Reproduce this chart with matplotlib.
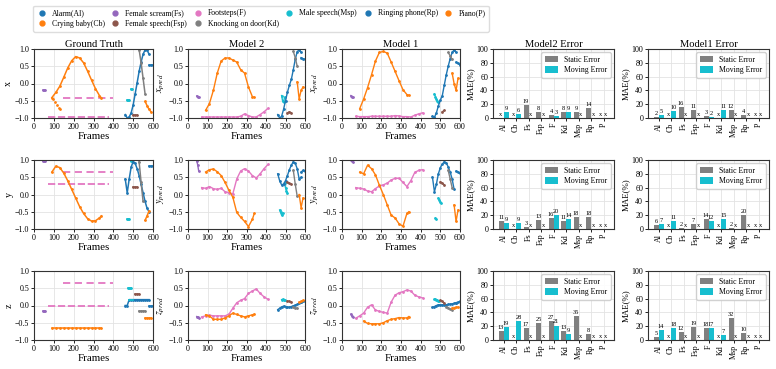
import numpy as np
import matplotlib
matplotlib.use("Agg")
import matplotlib.pyplot as plt
from matplotlib.lines import Line2D

nan = np.nan

# sound classes
names = ["Alarm(Al)", "Crying baby(Cb)", "Female scream(Fs)", "Female speech(Fsp)",
         "Footsteps(F)", "Knocking on door(Kd)", "Male speech(Msp)", "Ringing phone(Rp)", "Piano(P)"]
short = ["Al", "Cb", "Fs", "Fsp", "F", "Kd", "Msp", "Rp", "P"]
colors = ["#1f77b4", "#ff7f0e", "#9467bd", "#8c564b", "#e377c2",
          "#7f7f7f", "#17becf", "#1f77b4", "#ff7f0e"]

# frame grids for each source
fr_fs = [45, 50, 55]
fr_cb = [90, 110, 130, 150, 170, 190, 210, 230, 250, 270, 290, 310, 330, 340]
fr_f = [70, 90, 110, 130, 150, 170, 190, 210, 230, 250, 270, 290, 310, 330, 350, 370, 390, 410]
fr_msp = [470, 475, 480, 485, 490, 495, 500, 505, 510]
fr_al = [460, 470, 480, 490, 500, 510, 520, 530, 540, 550, 560, 570, 580]
fr_rp = [580, 590, 600]
fr_kd = [530, 540, 550, 560]
fr_fsp = [500, 510, 520, 530]
fr_p = [560, 570, 580, 590]
fr_f_gt_lo = [70, 380]
fr_f_gt_hi = [145, 400]
fr_cb_gt2 = [95, 105, 115, 125, 130]
fr_msp_gt2 = [480, 490, 500]

# ---- ground truth ----
x_gt_fs = [-0.2, -0.2, -0.2]
y_gt_fs = [0.98, 0.98, 0.98]
z_gt_fs = [-0.17, -0.17, -0.17]
x_gt_cb = [-0.41, -0.26, -0.08, 0.18, 0.45, 0.66, 0.78, 0.74, 0.6, 0.36, 0.1, -0.15, -0.35, -0.42]
y_gt_cb = [0.65, 0.82, 0.78, 0.62, 0.4, 0.15, -0.1, -0.35, -0.55, -0.7, -0.77, -0.76, -0.68, -0.62]
z_gt_cb = [-0.64, -0.64, -0.64, -0.64, -0.64, -0.64, -0.64, -0.64, -0.64, -0.64, -0.64, -0.64, -0.64, -0.64]
x_gt_cb2 = [-0.45, -0.55, -0.62, -0.7, -0.75]
x_gt_f_lo = [-0.97, -0.97]
x_gt_f_hi = [-0.42, -0.42]
y_gt_f_lo = [0.3, 0.3]
y_gt_f_hi = [0.65, 0.65]
z_gt_f_lo = [0.0, 0.0]
z_gt_f_hi = [0.65, 0.65]
x_gt_msp = [-0.47, -0.47, -0.47, nan, -0.16, -0.16, nan, nan, nan]
y_gt_msp = [-0.71, -0.71, -0.71, nan, 0.98, 0.98, nan, nan, nan]
z_gt_msp = [nan, 0.5, 0.5, 0.5, 0.5, nan, nan, nan, nan]
z_gt_msp2 = [0.17, 0.17, 0.17]
x_gt_al = [-0.9, -1.0, -0.97, -0.85, -0.62, -0.3, 0.02, 0.35, 0.62, 0.85, 0.97, 0.97, 0.85]
y_gt_al = [0.45, 0.05, 0.45, 0.8, 0.95, 0.9, 0.75, 0.55, 0.3, 0.05, -0.2, -0.4, -0.5]
z_gt_al = [0.0, 0.0, 0.17, 0.17, 0.17, 0.17, 0.17, 0.17, 0.17, 0.17, 0.17, 0.17, 0.17]
x_gt_rp = [0.55, 0.55, 0.55]
y_gt_rp = [0.84, 0.84, 0.84]
z_gt_rp = [0.0, 0.0, 0.0]
x_gt_kd = [0.98, 0.6, 0.15, -0.3]
y_gt_kd = [0.95, 0.35, -0.2, nan]
z_gt_kd = [-0.17, -0.17, -0.17, -0.17]
x_gt_fsp = [-0.92, -0.92, -0.92, nan]
y_gt_fsp = [0.21, 0.21, 0.21, nan]
z_gt_fsp = [nan, 0.33, 0.33, 0.33]
x_gt_p = [-0.52, -0.64, -0.75, -0.82]
y_gt_p = [-0.75, -0.62, -0.48, nan]
z_gt_p = [-0.35, -0.35, -0.35, -0.35]

# ---- model 2 predictions ----
x_m2_fs = [-0.36, -0.38, -0.4]
y_m2_fs = [0.98, 0.85, 0.68]
z_m2_fs = [-0.32, -0.34, -0.35]
x_m2_cb = [-0.78, -0.58, -0.2, 0.3, 0.65, 0.74, 0.74, 0.68, 0.62, 0.4, 0.3, -0.1, -0.38, -0.4]
y_m2_cb = [0.65, 0.72, 0.74, 0.66, 0.55, 0.35, 0.12, -0.08, -0.52, -0.66, -0.78, -0.93, -0.72, -0.55]
z_m2_cb = [-0.27, -0.3, -0.4, -0.4, -0.4, -0.36, -0.3, -0.22, -0.26, -0.3, -0.33, -0.3, -0.27, -0.25]
x_m2_f = [-0.97, -0.97, -0.97, -0.97, -0.97, -0.97, -0.97, -0.97, -0.97, -0.97, -0.95, -0.88, -0.93, -0.97, -0.97, -0.9, -0.82, -0.72]
y_m2_f = [0.2, 0.18, 0.23, 0.17, 0.15, 0.18, 0.08, 0.05, 0.02, 0.45, 0.68, 0.75, 0.68, 0.55, 0.48, 0.6, 0.75, 0.87]
z_m2_f = [-0.33, -0.3, -0.28, -0.3, -0.3, -0.3, -0.3, -0.25, -0.08, 0.08, 0.15, 0.2, 0.35, 0.42, 0.48, 0.35, 0.25, 0.18]
x_m2_msp = [nan, nan, -0.35, -0.5, -0.55, -0.4, nan, nan, nan]
y_m2_msp = [-0.45, -0.52, -0.6, -0.55, nan, 0.33, 0.2, 0.1, 0.04]
z_m2_msp = [nan, nan, 0.17, 0.18, 0.17, 0.15, nan, nan, nan]
x_m2_al = [-0.9, -1.0, -0.95, -0.75, -0.5, -0.25, -0.05, 0.12, 0.4, 0.7, 0.92, 0.98, 0.9]
y_m2_al = [0.6, 0.4, 0.28, 0.3, 0.4, 0.55, 0.72, 0.85, 0.95, 0.9, 0.75, 0.45, 0.5]
z_m2_al = [-0.12, -0.08, -0.04, -0.02, -0.03, -0.05, -0.05, -0.03, -0.01, 0.01, 0.03, 0.06, 0.09]
x_m2_rp = [0.75, 0.72, 0.7]
y_m2_rp = [0.65, 0.7, 0.68]
z_m2_rp = [0.1, 0.12, 0.13]
x_m2_kd = [nan, 0.93, 0.75, 0.5]
y_m2_kd = [nan, 0.7, 0.3, -0.05]
z_m2_kd = [nan, -0.05, -0.07, -0.08]
x_m2_fsp = [nan, -0.85, -0.82, -0.85]
y_m2_fsp = [nan, 0.35, 0.32, 0.3]
z_m2_fsp = [nan, 0.13, 0.12, 0.1]
x_m2_p = [0.05, -0.45, -0.2, -0.1]
y_m2_p = [nan, 0.0, -0.38, -0.1]
z_m2_p = [nan, 0.1, 0.12, 0.15]

# ---- model 1 predictions ----
x_m1_fs = [-0.35, -0.38, -0.4]
y_m1_fs = [1.0, 0.98, 0.95]
z_m1_fs = [-0.25, -0.3, -0.33]
x_m1_cb = [-0.73, -0.45, -0.12, 0.25, 0.65, 0.9, 0.93, 0.88, 0.62, 0.35, 0.08, -0.18, -0.32, -0.34]
y_m1_cb = [0.65, 0.6, 0.85, 0.75, 0.57, 0.27, 0.0, -0.3, -0.6, -0.68, -0.85, -0.92, -0.55, -0.5]
z_m1_cb = [nan, -0.45, -0.52, -0.53, -0.53, -0.53, -0.5, -0.44, -0.4, -0.38, -0.35, -0.36, -0.36, -0.32]
x_m1_f = [-0.95, -0.96, -0.96, -0.96, -0.95, -0.95, -0.95, -0.95, -0.95, -0.95, -0.93, -0.94, -0.96, -0.96, -0.97, -0.92, -0.88, -0.85]
y_m1_f = [0.2, 0.18, 0.16, 0.1, 0.08, 0.17, 0.25, 0.28, 0.33, 0.42, 0.47, 0.47, 0.35, 0.23, 0.4, 0.64, 0.7, 0.72]
z_m1_f = [-0.37, -0.3, -0.22, -0.05, 0.02, -0.13, -0.17, -0.2, -0.22, 0.1, 0.3, 0.37, 0.4, 0.45, 0.42, 0.3, 0.25, 0.22]
x_m1_msp = [-0.3, -0.38, -0.45, -0.5, -0.55, nan, nan, nan, nan]
y_m1_msp = [nan, -0.68, -0.72, nan, -0.1, -0.15, -0.22, -0.25, nan]
z_m1_msp = [0.18, 0.18, 0.17, 0.15, 0.13, 0.12, nan, nan, nan]
x_m1_al = [-0.95, -0.98, -0.85, -0.65, -0.48, -0.35, -0.05, 0.25, 0.5, 0.72, 0.9, 0.97, 0.9]
y_m1_al = [0.5, 0.08, 0.3, 0.6, 0.78, 0.88, 0.95, 0.92, 0.8, 0.65, 0.45, 0.15, nan]
z_m1_al = [-0.05, -0.03, 0.0, 0.02, 0.02, 0.02, 0.02, 0.02, 0.03, 0.04, 0.05, 0.06, 0.08]
x_m1_rp = [0.62, 0.58, 0.55]
y_m1_rp = [0.68, 0.65, 0.62]
z_m1_rp = [0.08, 0.1, 0.12]
x_m1_kd = [nan, 0.9, 0.8, 0.7]
y_m1_kd = [nan, 0.7, 0.45, 0.2]
z_m1_kd = [-0.03, -0.07, -0.1, -0.12]
x_m1_fsp = [nan, -0.82, -0.78, nan]
y_m1_fsp = [0.37, 0.33, 0.28, nan]
z_m1_fsp = [0.15, 0.12, 0.07, nan]
x_m1_p = [0.3, 0.0, -0.2, 0.15]
y_m1_p = [nan, -0.3, -0.78, -0.45]
z_m1_p = [-0.08, -0.07, -0.05, -0.05]

# ---- MAE (%) per class, nan = not present ----
x_m2_static = [nan, nan, 19, 8, 4, 8, 9, 14, nan]
x_m2_moving = [9, 6, nan, nan, 3, 9, nan, nan, nan]
x_m1_static = [2, nan, 16, 11, 3, nan, 12, 4, nan]
x_m1_moving = [5, 10, nan, nan, 2, 11, nan, nan, nan]
y_m2_static = [11, nan, 3, 13, 16, 11, 18, 18, nan]
y_m2_moving = [9, 9, nan, nan, 20, 14, nan, nan, nan]
y_m1_static = [6, nan, 2, 7, 14, nan, 2, 20, nan]
y_m1_moving = [7, 11, nan, nan, 12, 15, nan, nan, nan]
z_m2_static = [13, nan, 17, 25, 27, 13, 35, 8, nan]
z_m2_moving = [19, 28, nan, nan, 21, 9, nan, nan, nan]
z_m1_static = [5, nan, 12, 19, 18, nan, 32, 10, nan]
z_m1_moving = [14, 18, nan, nan, 17, 7, nan, nan, nan]

plt.rcParams['font.family'] = 'Liberation Serif'
plt.rcParams['mathtext.fontset'] = 'stix'
plt.rcParams['axes.edgecolor'] = '#333333'
plt.rcParams['axes.linewidth'] = 0.8
plt.rcParams['xtick.major.size'] = 2
plt.rcParams['ytick.major.size'] = 2
plt.rcParams['xtick.major.width'] = 0.6
plt.rcParams['ytick.major.width'] = 0.6
plt.rcParams['xtick.major.pad'] = 1.5
plt.rcParams['ytick.major.pad'] = 1.5

# (suffix, frames, colour index) in drawing order
parts = [('_fs', fr_fs, 2), ('_f', fr_f, 4), ('_cb', fr_cb, 1), ('_msp', fr_msp, 6),
         ('_al', fr_al, 0), ('_rp', fr_rp, 7), ('_kd', fr_kd, 5), ('_fsp', fr_fsp, 3),
         ('_p', fr_p, 8)]


def pred_series(prefix):
    g = globals()
    out = []
    for suf, fr, ci in parts:
        if prefix + suf in g:
            out.append((fr, g[prefix + suf], colors[ci]))
    return out


fig = plt.figure(figsize=(7.76, 3.69), dpi=100)

lefts = [34, 188, 342, 493, 648]
widths = [119, 117, 118, 121, 121]
tops = [49, 160, 271]
H = 69
W, Hf = 776.0, 369.0

coords = ['x', 'y', 'z']
titles = ["Ground Truth", "Model 2", "Model 1", "Model2 Error", "Model1 Error"]

for r, c in enumerate(coords):
    for col in range(5):
        ax = fig.add_axes([lefts[col] / W, 1 - (tops[r] + H) / Hf, widths[col] / W, H / Hf])
        ax.tick_params(labelsize=5.8)
        ax.grid(True, color='#e3e3e3', lw=0.6)
        ax.set_axisbelow(True)
        if r == 0:
            ax.set_title(titles[col], fontsize=7.6, pad=1.5)
        if col < 3:
            if col == 0:
                g = globals()
                ax.plot(fr_f_gt_lo, g[c + '_gt_f_lo'], color=colors[4], lw=1.3, ls=(0, (4, 1.5)))
                ax.plot(fr_f_gt_hi, g[c + '_gt_f_hi'], color=colors[4], lw=1.3, ls=(0, (4, 2.5)))
                for fr, v, cl in pred_series(c + '_gt'):
                    ax.plot(fr, v, color=cl, lw=1.1, marker='.', ms=2.0)
                if c == 'x':
                    ax.plot(fr_cb_gt2, x_gt_cb2, color=colors[1], lw=0, marker='.', ms=2.0)
                if c == 'z':
                    ax.plot(fr_msp_gt2, z_gt_msp2, color=colors[6], lw=1.3)
                ax.set_ylabel(c, fontsize=7.2, labelpad=1)
            else:
                tag = '_m2' if col == 1 else '_m1'
                for fr, v, cl in pred_series(c + tag):
                    ax.plot(fr, v, color=cl, lw=1.0, marker='.', ms=2.0)
                ax.set_ylabel('$%s_{pred}$' % c, fontsize=7.2, labelpad=1)
            ax.set_xlim(0, 600)
            ax.set_ylim(-1, 1)
            ax.set_xticks([0, 100, 200, 300, 400, 500, 600])
            ax.set_yticks([-1.0, -0.5, 0.0, 0.5, 1.0])
            ax.set_xlabel('Frames', fontsize=7.8, labelpad=1)
        else:
            tag = '_m2' if col == 3 else '_m1'
            st = globals()[c + tag + '_static']
            mv = globals()[c + tag + '_moving']
            idx = np.arange(len(short))
            w = 0.4
            ax.bar(idx - w / 2, np.nan_to_num(st), w, color='#808080', label='Static Error')
            ax.bar(idx + w / 2, np.nan_to_num(mv), w, color='#17becf', label='Moving Error')
            for i in idx:
                for off, v in ((-w / 2, st[i]), (w / 2, mv[i])):
                    if np.isnan(v):
                        ax.text(i + off, 1.5, 'x', ha='center', va='bottom', fontsize=4.6)
                    else:
                        ax.text(i + off, v + 1.5, '%d' % v, ha='center', va='bottom', fontsize=4.6)
            ax.set_ylim(0, 100)
            ax.set_yticks([0, 20, 40, 60, 80, 100])
            ax.set_xticks(idx)
            ax.set_xticklabels(short, rotation=90)
            ax.set_ylabel('MAE(%)', fontsize=6.4, labelpad=1)
            ax.legend(loc='upper right', fontsize=5.6, handlelength=1.7, handleheight=0.9,
                      borderpad=0.45, labelspacing=0.35, handletextpad=0.8,
                      framealpha=0.9, borderaxespad=0.4)

# top legend: tune the column gap so the box is about as wide as in the original
handles = [Line2D([], [], ls='none', marker='o', ms=3.5, color=cl) for cl in colors]
target_w = 456


def top_legend(gap):
    return fig.legend(handles, names, loc='upper center', bbox_to_anchor=(261 / W, 1 - 2 / Hf),
                      ncol=6, fontsize=5.6, columnspacing=gap, handlelength=1.3,
                      handletextpad=0.65, borderpad=0.45, labelspacing=0.35, framealpha=1,
                      edgecolor='#dddddd')


gap = 1.0
renderer = fig.canvas.get_renderer()
for _ in range(8):
    leg = top_legend(gap)
    lw = leg.get_window_extent(renderer).width
    leg.remove()
    if abs(lw - target_w) < 2:
        break
    gap = max(0.2, gap + (target_w - lw) / 5 / 7.78)
top_legend(gap)

fig.savefig('out.png', dpi=100)
